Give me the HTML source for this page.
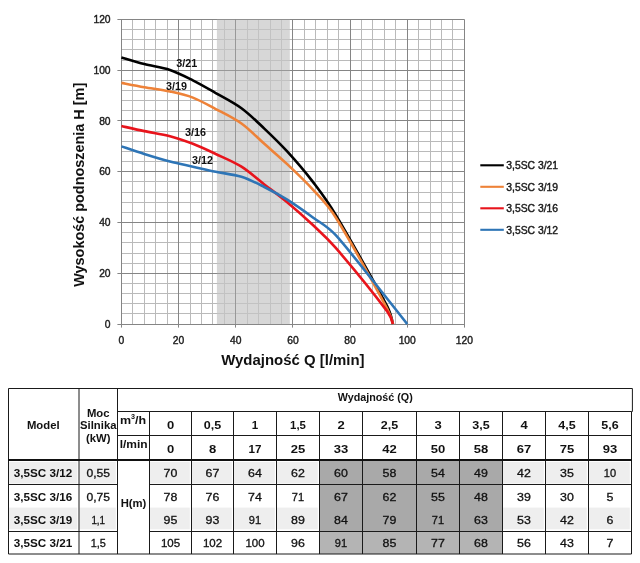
<!DOCTYPE html>
<html lang="pl"><head><meta charset="utf-8"><title>3,5SC</title>
<style>html,body{margin:0;padding:0;background:#fff}svg{display:block}text{font-family:"Liberation Sans",sans-serif}</style></head><body>
<svg width="640" height="563" viewBox="0 0 640 563">
<rect width="640" height="563" fill="#fff"/>
<g stroke="#bababa" stroke-width="1">
<line x1="132.50" y1="19.40" x2="132.50" y2="324.10"/>
<line x1="121.40" y1="313.50" x2="464.40" y2="313.50"/>
<line x1="144.50" y1="19.40" x2="144.50" y2="324.10"/>
<line x1="121.40" y1="303.50" x2="464.40" y2="303.50"/>
<line x1="155.50" y1="19.40" x2="155.50" y2="324.10"/>
<line x1="121.40" y1="293.50" x2="464.40" y2="293.50"/>
<line x1="167.50" y1="19.40" x2="167.50" y2="324.10"/>
<line x1="121.40" y1="283.50" x2="464.40" y2="283.50"/>
<line x1="190.50" y1="19.40" x2="190.50" y2="324.10"/>
<line x1="121.40" y1="263.50" x2="464.40" y2="263.50"/>
<line x1="201.50" y1="19.40" x2="201.50" y2="324.10"/>
<line x1="121.40" y1="253.50" x2="464.40" y2="253.50"/>
<line x1="212.50" y1="19.40" x2="212.50" y2="324.10"/>
<line x1="121.40" y1="242.50" x2="464.40" y2="242.50"/>
<line x1="224.50" y1="19.40" x2="224.50" y2="324.10"/>
<line x1="121.40" y1="232.50" x2="464.40" y2="232.50"/>
<line x1="247.50" y1="19.40" x2="247.50" y2="324.10"/>
<line x1="121.40" y1="212.50" x2="464.40" y2="212.50"/>
<line x1="258.50" y1="19.40" x2="258.50" y2="324.10"/>
<line x1="121.40" y1="202.50" x2="464.40" y2="202.50"/>
<line x1="270.50" y1="19.40" x2="270.50" y2="324.10"/>
<line x1="121.40" y1="192.50" x2="464.40" y2="192.50"/>
<line x1="281.50" y1="19.40" x2="281.50" y2="324.10"/>
<line x1="121.40" y1="181.50" x2="464.40" y2="181.50"/>
<line x1="304.50" y1="19.40" x2="304.50" y2="324.10"/>
<line x1="121.40" y1="161.50" x2="464.40" y2="161.50"/>
<line x1="315.50" y1="19.40" x2="315.50" y2="324.10"/>
<line x1="121.40" y1="151.50" x2="464.40" y2="151.50"/>
<line x1="327.50" y1="19.40" x2="327.50" y2="324.10"/>
<line x1="121.40" y1="141.50" x2="464.40" y2="141.50"/>
<line x1="338.50" y1="19.40" x2="338.50" y2="324.10"/>
<line x1="121.40" y1="131.50" x2="464.40" y2="131.50"/>
<line x1="361.50" y1="19.40" x2="361.50" y2="324.10"/>
<line x1="121.40" y1="110.50" x2="464.40" y2="110.50"/>
<line x1="372.50" y1="19.40" x2="372.50" y2="324.10"/>
<line x1="121.40" y1="100.50" x2="464.40" y2="100.50"/>
<line x1="384.50" y1="19.40" x2="384.50" y2="324.10"/>
<line x1="121.40" y1="90.50" x2="464.40" y2="90.50"/>
<line x1="395.50" y1="19.40" x2="395.50" y2="324.10"/>
<line x1="121.40" y1="80.50" x2="464.40" y2="80.50"/>
<line x1="418.50" y1="19.40" x2="418.50" y2="324.10"/>
<line x1="121.40" y1="60.50" x2="464.40" y2="60.50"/>
<line x1="430.50" y1="19.40" x2="430.50" y2="324.10"/>
<line x1="121.40" y1="49.50" x2="464.40" y2="49.50"/>
<line x1="441.50" y1="19.40" x2="441.50" y2="324.10"/>
<line x1="121.40" y1="39.50" x2="464.40" y2="39.50"/>
<line x1="452.50" y1="19.40" x2="452.50" y2="324.10"/>
<line x1="121.40" y1="29.50" x2="464.40" y2="29.50"/>
</g>
<g stroke="#858585" stroke-width="1">
<line x1="121.50" y1="19.40" x2="121.50" y2="327.60"/>
<line x1="117.40" y1="324.50" x2="464.40" y2="324.50"/>
<line x1="178.50" y1="19.40" x2="178.50" y2="327.60"/>
<line x1="117.40" y1="273.50" x2="464.40" y2="273.50"/>
<line x1="235.50" y1="19.40" x2="235.50" y2="327.60"/>
<line x1="117.40" y1="222.50" x2="464.40" y2="222.50"/>
<line x1="292.50" y1="19.40" x2="292.50" y2="327.60"/>
<line x1="117.40" y1="171.50" x2="464.40" y2="171.50"/>
<line x1="350.50" y1="19.40" x2="350.50" y2="327.60"/>
<line x1="117.40" y1="120.50" x2="464.40" y2="120.50"/>
<line x1="407.50" y1="19.40" x2="407.50" y2="327.60"/>
<line x1="117.40" y1="70.50" x2="464.40" y2="70.50"/>
<line x1="464.50" y1="19.40" x2="464.50" y2="327.60"/>
<line x1="117.40" y1="19.50" x2="464.40" y2="19.50"/>
</g>
<rect x="216.9" y="19.40" width="72.9" height="304.70" fill="#c6c6c6" fill-opacity="0.7"/>
<g stroke="#858585" stroke-width="1" stroke-opacity="0.6">
<line x1="235.50" y1="19.40" x2="235.50" y2="324.10"/>
<line x1="216.9" y1="324.50" x2="289.8" y2="324.50"/>
<line x1="216.9" y1="273.50" x2="289.8" y2="273.50"/>
<line x1="216.9" y1="222.50" x2="289.8" y2="222.50"/>
<line x1="216.9" y1="171.50" x2="289.8" y2="171.50"/>
<line x1="216.9" y1="120.50" x2="289.8" y2="120.50"/>
<line x1="216.9" y1="70.50" x2="289.8" y2="70.50"/>
<line x1="216.9" y1="19.50" x2="289.8" y2="19.50"/>
</g>
<path d="M121.40 57.49 C125.21 58.59 136.17 62.02 144.27 64.09 C152.37 66.16 161.89 67.22 169.99 69.93 C178.09 72.64 185.24 76.49 192.86 80.34 C200.48 84.19 207.63 88.38 215.73 93.04 C223.82 97.69 233.35 102.35 241.45 108.27 C249.55 114.20 256.69 121.39 264.32 128.58 C271.94 135.78 279.08 142.55 287.18 151.44 C295.28 160.32 304.81 171.33 312.91 181.91 C321.01 192.49 326.42 199.25 335.77 214.92 C348.16 235.65 377.70 288.13 387.23 306.33 C390.18 311.96 392.04 319.50 392.94 324.10" fill="none" stroke="#000000" stroke-width="2.6" stroke-linecap="butt" stroke-linejoin="round"/>
<path d="M121.40 82.88 C125.21 83.60 136.17 85.76 144.27 87.20 C152.37 88.63 161.89 89.78 169.99 91.51 C178.09 93.25 185.24 94.69 192.86 97.61 C200.48 100.53 207.63 104.72 215.73 109.03 C223.82 113.35 233.35 117.71 241.45 123.51 C249.55 129.30 256.69 137.05 264.32 143.82 C271.94 150.59 279.08 156.51 287.18 164.13 C295.28 171.75 304.81 180.64 312.91 189.52 C321.01 198.41 327.10 203.53 335.77 217.46 C348.16 237.35 377.70 291.09 387.23 308.87 C389.85 313.75 392.04 319.50 392.94 324.10" fill="none" stroke="#EE8238" stroke-width="2.6" stroke-linecap="butt" stroke-linejoin="round"/>
<path d="M121.40 126.05 C125.21 126.89 136.17 129.43 144.27 131.12 C152.37 132.82 161.89 134.09 169.99 136.20 C178.09 138.32 185.24 140.86 192.86 143.82 C200.48 146.78 207.63 150.17 215.73 153.98 C223.82 157.78 233.35 161.59 241.45 166.67 C249.55 171.75 256.69 178.52 264.32 184.45 C271.94 190.37 279.08 195.45 287.18 202.22 C295.28 208.99 304.81 217.46 312.91 225.07 C321.01 232.69 326.19 236.79 335.77 247.93 C348.16 262.31 377.70 298.71 387.23 311.40 C390.07 315.20 392.04 319.50 392.94 324.10" fill="none" stroke="#E8141C" stroke-width="2.6" stroke-linecap="butt" stroke-linejoin="round"/>
<path d="M121.40 146.36 C125.21 147.63 136.17 151.44 144.27 153.98 C152.37 156.52 161.89 159.48 169.99 161.59 C178.09 163.71 185.24 164.98 192.86 166.67 C200.48 168.36 207.63 170.06 215.73 171.75 C223.82 173.44 233.35 174.29 241.45 176.83 C249.55 179.37 256.69 183.18 264.32 186.98 C271.94 190.79 279.08 194.60 287.18 199.68 C295.28 204.76 304.81 211.53 312.91 217.46 C321.01 223.38 326.89 225.51 335.77 235.23 C348.16 248.77 375.32 283.90 387.23 298.71 C396.43 310.16 403.90 319.87 407.23 324.10" fill="none" stroke="#2E75B6" stroke-width="2.6" stroke-linecap="butt" stroke-linejoin="round"/>
<g font-size="10.3" fill="#1c1c1c" stroke="#1c1c1c" stroke-width="0.4">
<text x="110.6" y="327.70" text-anchor="end">0</text>
<text x="121.40" y="343.8" text-anchor="middle">0</text>
<text x="110.6" y="276.92" text-anchor="end">20</text>
<text x="178.57" y="343.8" text-anchor="middle">20</text>
<text x="110.6" y="226.13" text-anchor="end">40</text>
<text x="235.73" y="343.8" text-anchor="middle">40</text>
<text x="110.6" y="175.35" text-anchor="end">60</text>
<text x="292.90" y="343.8" text-anchor="middle">60</text>
<text x="110.6" y="124.57" text-anchor="end">80</text>
<text x="350.07" y="343.8" text-anchor="middle">80</text>
<text x="110.6" y="73.78" text-anchor="end">100</text>
<text x="407.23" y="343.8" text-anchor="middle">100</text>
<text x="110.6" y="23.00" text-anchor="end">120</text>
<text x="464.40" y="343.8" text-anchor="middle">120</text>
</g>
<g font-size="10.6" font-weight="bold" fill="#111">
<text x="176.2" y="66.6" textLength="21" lengthAdjust="spacingAndGlyphs">3/21</text>
<text x="166.1" y="89.6" textLength="21" lengthAdjust="spacingAndGlyphs">3/19</text>
<text x="184.9" y="135.5" textLength="21" lengthAdjust="spacingAndGlyphs">3/16</text>
<text x="192.1" y="164" textLength="21" lengthAdjust="spacingAndGlyphs">3/12</text>
</g>
<text x="221.2" y="365" font-size="15" font-weight="bold" fill="#111" textLength="143.4" lengthAdjust="spacingAndGlyphs">Wydajność Q [l/min]</text>
<text transform="translate(84 286.8) rotate(-90)" font-size="15" font-weight="bold" fill="#111" textLength="204" lengthAdjust="spacingAndGlyphs">Wysokość podnoszenia H [m]</text>
<line x1="480.3" y1="165.30" x2="503.8" y2="165.30" stroke="#000000" stroke-width="2.1"/>
<text x="506.3" y="169.20" font-size="10.1" fill="#1a1a1a" stroke="#1a1a1a" stroke-width="0.4" textLength="51.8" lengthAdjust="spacingAndGlyphs">3,5SC 3/21</text>
<line x1="480.3" y1="186.80" x2="503.8" y2="186.80" stroke="#EE8238" stroke-width="2.1"/>
<text x="506.3" y="190.70" font-size="10.1" fill="#1a1a1a" stroke="#1a1a1a" stroke-width="0.4" textLength="51.8" lengthAdjust="spacingAndGlyphs">3,5SC 3/19</text>
<line x1="480.3" y1="208.30" x2="503.8" y2="208.30" stroke="#E8141C" stroke-width="2.1"/>
<text x="506.3" y="212.20" font-size="10.1" fill="#1a1a1a" stroke="#1a1a1a" stroke-width="0.4" textLength="51.8" lengthAdjust="spacingAndGlyphs">3,5SC 3/16</text>
<line x1="480.3" y1="229.80" x2="503.8" y2="229.80" stroke="#2E75B6" stroke-width="2.1"/>
<text x="506.3" y="233.70" font-size="10.1" fill="#1a1a1a" stroke="#1a1a1a" stroke-width="0.4" textLength="51.8" lengthAdjust="spacingAndGlyphs">3,5SC 3/12</text>
<rect x="9.00" y="461.90" width="68.30" height="21.60" fill="#eeeeee"/>
<rect x="79.50" y="461.90" width="36.30" height="21.60" fill="#eeeeee"/>
<rect x="150.00" y="461.90" width="39.80" height="21.60" fill="#eeeeee"/>
<rect x="192.00" y="461.90" width="39.80" height="21.60" fill="#eeeeee"/>
<rect x="234.00" y="461.90" width="40.80" height="21.60" fill="#eeeeee"/>
<rect x="277.00" y="461.90" width="40.80" height="21.60" fill="#eeeeee"/>
<rect x="320.00" y="461.90" width="40.80" height="21.60" fill="#eeeeee"/>
<rect x="363.00" y="461.90" width="51.80" height="21.60" fill="#eeeeee"/>
<rect x="417.00" y="461.90" width="40.80" height="21.60" fill="#eeeeee"/>
<rect x="460.00" y="461.90" width="40.80" height="21.60" fill="#eeeeee"/>
<rect x="503.00" y="461.90" width="40.80" height="21.60" fill="#eeeeee"/>
<rect x="546.00" y="461.90" width="40.80" height="21.60" fill="#eeeeee"/>
<rect x="589.00" y="461.90" width="40.80" height="21.60" fill="#eeeeee"/>
<rect x="9.00" y="507.60" width="68.30" height="21.70" fill="#eeeeee"/>
<rect x="79.50" y="507.60" width="36.30" height="21.70" fill="#eeeeee"/>
<rect x="150.00" y="507.60" width="39.80" height="21.70" fill="#eeeeee"/>
<rect x="192.00" y="507.60" width="39.80" height="21.70" fill="#eeeeee"/>
<rect x="234.00" y="507.60" width="40.80" height="21.70" fill="#eeeeee"/>
<rect x="277.00" y="507.60" width="40.80" height="21.70" fill="#eeeeee"/>
<rect x="320.00" y="507.60" width="40.80" height="21.70" fill="#eeeeee"/>
<rect x="363.00" y="507.60" width="51.80" height="21.70" fill="#eeeeee"/>
<rect x="417.00" y="507.60" width="40.80" height="21.70" fill="#eeeeee"/>
<rect x="460.00" y="507.60" width="40.80" height="21.70" fill="#eeeeee"/>
<rect x="503.00" y="507.60" width="40.80" height="21.70" fill="#eeeeee"/>
<rect x="546.00" y="507.60" width="40.80" height="21.70" fill="#eeeeee"/>
<rect x="589.00" y="507.60" width="40.80" height="21.70" fill="#eeeeee"/>
<rect x="319.50" y="459.90" width="183.00" height="71.60" fill="#a9a9a9"/>
<rect x="319.50" y="531.50" width="183.00" height="22.50" fill="#b4b4b4"/>
<g stroke="#1a1a1a" stroke-width="1" fill="none">
<path d="M8.50 388.50 H632.40 V411.50 H631.50 V554.00 H8.50 Z"/>
<line x1="79.00" y1="388.50" x2="79.00" y2="554.00"/>
<line x1="117.50" y1="388.50" x2="117.50" y2="554.00"/>
<line x1="149.50" y1="411.50" x2="149.50" y2="554.00"/>
<line x1="191.50" y1="411.50" x2="191.50" y2="554.00"/>
<line x1="233.50" y1="411.50" x2="233.50" y2="554.00"/>
<line x1="276.50" y1="411.50" x2="276.50" y2="554.00"/>
<line x1="319.50" y1="411.50" x2="319.50" y2="554.00"/>
<line x1="362.50" y1="411.50" x2="362.50" y2="554.00"/>
<line x1="416.50" y1="411.50" x2="416.50" y2="554.00"/>
<line x1="459.50" y1="411.50" x2="459.50" y2="554.00"/>
<line x1="502.50" y1="411.50" x2="502.50" y2="554.00"/>
<line x1="545.50" y1="411.50" x2="545.50" y2="554.00"/>
<line x1="588.50" y1="411.50" x2="588.50" y2="554.00"/>
<line x1="117.50" y1="411.50" x2="631.50" y2="411.50"/>
<line x1="117.50" y1="435.50" x2="631.50" y2="435.50"/>
<line x1="8.50" y1="484.50" x2="117.50" y2="484.50"/>
<line x1="149.50" y1="484.50" x2="631.50" y2="484.50"/>
<line x1="8.50" y1="531.50" x2="117.50" y2="531.50"/>
<line x1="149.50" y1="531.50" x2="631.50" y2="531.50"/>
</g>
<line x1="8.00" y1="459.90" x2="632.00" y2="459.90" stroke="#111" stroke-width="2"/>
<text x="43.25" y="428.60" font-size="11.3" font-weight="bold" text-anchor="middle" fill="#111">Model</text>
<text x="98.25" y="416.50" font-size="11.3" font-weight="bold" text-anchor="middle" fill="#111">Moc</text>
<text x="98.25" y="429.20" font-size="11.3" font-weight="bold" text-anchor="middle" fill="#111">Silnika</text>
<text x="98.25" y="441.80" font-size="11.3" font-weight="bold" text-anchor="middle" fill="#111">(kW)</text>
<text x="120.00" y="423.8" font-size="11.3" font-weight="bold" fill="#111" textLength="26.2" lengthAdjust="spacingAndGlyphs">m<tspan font-size="6.5" dy="-4.5">3</tspan><tspan dy="4.5">/h</tspan></text>
<text x="119.70" y="448" font-size="11.3" font-weight="bold" fill="#111" textLength="28" lengthAdjust="spacingAndGlyphs">l/min</text>
<text x="375.30" y="401.20" font-size="11.5" font-weight="bold" text-anchor="middle" fill="#111" textLength="75.00" lengthAdjust="spacingAndGlyphs">Wydajność (Q)</text>
<text x="170.50" y="429.20" font-size="11.5" font-weight="bold" text-anchor="middle" fill="#111" textLength="7.25" lengthAdjust="spacingAndGlyphs">0</text>
<text x="170.50" y="453.40" font-size="11.5" font-weight="bold" text-anchor="middle" fill="#111" textLength="7.25" lengthAdjust="spacingAndGlyphs">0</text>
<text x="212.50" y="429.20" font-size="11.5" font-weight="bold" text-anchor="middle" fill="#111" textLength="17.40" lengthAdjust="spacingAndGlyphs">0,5</text>
<text x="212.50" y="453.40" font-size="11.5" font-weight="bold" text-anchor="middle" fill="#111" textLength="7.25" lengthAdjust="spacingAndGlyphs">8</text>
<text x="255.00" y="429.20" font-size="11.5" font-weight="bold" text-anchor="middle" fill="#111">1</text>
<text x="255.00" y="453.40" font-size="11.5" font-weight="bold" text-anchor="middle" fill="#111" textLength="12.95" lengthAdjust="spacingAndGlyphs">17</text>
<text x="298.00" y="429.20" font-size="11.5" font-weight="bold" text-anchor="middle" fill="#111" textLength="15.85" lengthAdjust="spacingAndGlyphs">1,5</text>
<text x="298.00" y="453.40" font-size="11.5" font-weight="bold" text-anchor="middle" fill="#111" textLength="14.50" lengthAdjust="spacingAndGlyphs">25</text>
<text x="341.00" y="429.20" font-size="11.5" font-weight="bold" text-anchor="middle" fill="#111" textLength="7.25" lengthAdjust="spacingAndGlyphs">2</text>
<text x="341.00" y="453.40" font-size="11.5" font-weight="bold" text-anchor="middle" fill="#111" textLength="14.50" lengthAdjust="spacingAndGlyphs">33</text>
<text x="389.50" y="429.20" font-size="11.5" font-weight="bold" text-anchor="middle" fill="#111" textLength="17.40" lengthAdjust="spacingAndGlyphs">2,5</text>
<text x="389.50" y="453.40" font-size="11.5" font-weight="bold" text-anchor="middle" fill="#111" textLength="14.50" lengthAdjust="spacingAndGlyphs">42</text>
<text x="438.00" y="429.20" font-size="11.5" font-weight="bold" text-anchor="middle" fill="#111" textLength="7.25" lengthAdjust="spacingAndGlyphs">3</text>
<text x="438.00" y="453.40" font-size="11.5" font-weight="bold" text-anchor="middle" fill="#111" textLength="14.50" lengthAdjust="spacingAndGlyphs">50</text>
<text x="481.00" y="429.20" font-size="11.5" font-weight="bold" text-anchor="middle" fill="#111" textLength="17.40" lengthAdjust="spacingAndGlyphs">3,5</text>
<text x="481.00" y="453.40" font-size="11.5" font-weight="bold" text-anchor="middle" fill="#111" textLength="14.50" lengthAdjust="spacingAndGlyphs">58</text>
<text x="524.00" y="429.20" font-size="11.5" font-weight="bold" text-anchor="middle" fill="#111" textLength="7.25" lengthAdjust="spacingAndGlyphs">4</text>
<text x="524.00" y="453.40" font-size="11.5" font-weight="bold" text-anchor="middle" fill="#111" textLength="14.50" lengthAdjust="spacingAndGlyphs">67</text>
<text x="567.00" y="429.20" font-size="11.5" font-weight="bold" text-anchor="middle" fill="#111" textLength="17.40" lengthAdjust="spacingAndGlyphs">4,5</text>
<text x="567.00" y="453.40" font-size="11.5" font-weight="bold" text-anchor="middle" fill="#111" textLength="14.50" lengthAdjust="spacingAndGlyphs">75</text>
<text x="610.00" y="429.20" font-size="11.5" font-weight="bold" text-anchor="middle" fill="#111" textLength="17.40" lengthAdjust="spacingAndGlyphs">5,6</text>
<text x="610.00" y="453.40" font-size="11.5" font-weight="bold" text-anchor="middle" fill="#111" textLength="14.50" lengthAdjust="spacingAndGlyphs">93</text>
<text x="43.05" y="477.30" font-size="11.7" font-weight="bold" text-anchor="middle" fill="#111">3,5SC 3/12</text>
<text x="98.25" y="477.30" font-size="11.3"  text-anchor="middle" fill="#111" textLength="23.60" lengthAdjust="spacingAndGlyphs" stroke="#111" stroke-width="0.3">0,55</text>
<text x="170.50" y="477.30" font-size="11.3"  text-anchor="middle" fill="#111" textLength="13.80" lengthAdjust="spacingAndGlyphs" stroke="#111" stroke-width="0.3">70</text>
<text x="212.50" y="477.30" font-size="11.3"  text-anchor="middle" fill="#111" textLength="13.80" lengthAdjust="spacingAndGlyphs" stroke="#111" stroke-width="0.3">67</text>
<text x="255.00" y="477.30" font-size="11.3"  text-anchor="middle" fill="#111" textLength="13.80" lengthAdjust="spacingAndGlyphs" stroke="#111" stroke-width="0.3">64</text>
<text x="298.00" y="477.30" font-size="11.3"  text-anchor="middle" fill="#111" textLength="13.80" lengthAdjust="spacingAndGlyphs" stroke="#111" stroke-width="0.3">62</text>
<text x="341.00" y="477.30" font-size="11.3"  text-anchor="middle" fill="#111" textLength="13.80" lengthAdjust="spacingAndGlyphs" stroke="#111" stroke-width="0.3">60</text>
<text x="389.50" y="477.30" font-size="11.3"  text-anchor="middle" fill="#111" textLength="13.80" lengthAdjust="spacingAndGlyphs" stroke="#111" stroke-width="0.3">58</text>
<text x="438.00" y="477.30" font-size="11.3"  text-anchor="middle" fill="#111" textLength="13.80" lengthAdjust="spacingAndGlyphs" stroke="#111" stroke-width="0.3">54</text>
<text x="481.00" y="477.30" font-size="11.3"  text-anchor="middle" fill="#111" textLength="13.80" lengthAdjust="spacingAndGlyphs" stroke="#111" stroke-width="0.3">49</text>
<text x="524.00" y="477.30" font-size="11.3"  text-anchor="middle" fill="#111" textLength="13.80" lengthAdjust="spacingAndGlyphs" stroke="#111" stroke-width="0.3">42</text>
<text x="567.00" y="477.30" font-size="11.3"  text-anchor="middle" fill="#111" textLength="13.80" lengthAdjust="spacingAndGlyphs" stroke="#111" stroke-width="0.3">35</text>
<text x="610.00" y="477.30" font-size="11.3"  text-anchor="middle" fill="#111" textLength="12.30" lengthAdjust="spacingAndGlyphs" stroke="#111" stroke-width="0.3">10</text>
<text x="43.05" y="501.20" font-size="11.7" font-weight="bold" text-anchor="middle" fill="#111">3,5SC 3/16</text>
<text x="98.25" y="501.20" font-size="11.3"  text-anchor="middle" fill="#111" textLength="23.60" lengthAdjust="spacingAndGlyphs" stroke="#111" stroke-width="0.3">0,75</text>
<text x="170.50" y="501.20" font-size="11.3"  text-anchor="middle" fill="#111" textLength="13.80" lengthAdjust="spacingAndGlyphs" stroke="#111" stroke-width="0.3">78</text>
<text x="212.50" y="501.20" font-size="11.3"  text-anchor="middle" fill="#111" textLength="13.80" lengthAdjust="spacingAndGlyphs" stroke="#111" stroke-width="0.3">76</text>
<text x="255.00" y="501.20" font-size="11.3"  text-anchor="middle" fill="#111" textLength="13.80" lengthAdjust="spacingAndGlyphs" stroke="#111" stroke-width="0.3">74</text>
<text x="298.00" y="501.20" font-size="11.3"  text-anchor="middle" fill="#111" textLength="12.30" lengthAdjust="spacingAndGlyphs" stroke="#111" stroke-width="0.3">71</text>
<text x="341.00" y="501.20" font-size="11.3"  text-anchor="middle" fill="#111" textLength="13.80" lengthAdjust="spacingAndGlyphs" stroke="#111" stroke-width="0.3">67</text>
<text x="389.50" y="501.20" font-size="11.3"  text-anchor="middle" fill="#111" textLength="13.80" lengthAdjust="spacingAndGlyphs" stroke="#111" stroke-width="0.3">62</text>
<text x="438.00" y="501.20" font-size="11.3"  text-anchor="middle" fill="#111" textLength="13.80" lengthAdjust="spacingAndGlyphs" stroke="#111" stroke-width="0.3">55</text>
<text x="481.00" y="501.20" font-size="11.3"  text-anchor="middle" fill="#111" textLength="13.80" lengthAdjust="spacingAndGlyphs" stroke="#111" stroke-width="0.3">48</text>
<text x="524.00" y="501.20" font-size="11.3"  text-anchor="middle" fill="#111" textLength="13.80" lengthAdjust="spacingAndGlyphs" stroke="#111" stroke-width="0.3">39</text>
<text x="567.00" y="501.20" font-size="11.3"  text-anchor="middle" fill="#111" textLength="13.80" lengthAdjust="spacingAndGlyphs" stroke="#111" stroke-width="0.3">30</text>
<text x="610.00" y="501.20" font-size="11.3"  text-anchor="middle" fill="#111" textLength="6.90" lengthAdjust="spacingAndGlyphs" stroke="#111" stroke-width="0.3">5</text>
<text x="43.05" y="524.20" font-size="11.7" font-weight="bold" text-anchor="middle" fill="#111">3,5SC 3/19</text>
<text x="98.25" y="524.20" font-size="11.3"  text-anchor="middle" fill="#111" textLength="13.70" lengthAdjust="spacingAndGlyphs" stroke="#111" stroke-width="0.3">1,1</text>
<text x="170.50" y="524.20" font-size="11.3"  text-anchor="middle" fill="#111" textLength="13.80" lengthAdjust="spacingAndGlyphs" stroke="#111" stroke-width="0.3">95</text>
<text x="212.50" y="524.20" font-size="11.3"  text-anchor="middle" fill="#111" textLength="13.80" lengthAdjust="spacingAndGlyphs" stroke="#111" stroke-width="0.3">93</text>
<text x="255.00" y="524.20" font-size="11.3"  text-anchor="middle" fill="#111" textLength="12.30" lengthAdjust="spacingAndGlyphs" stroke="#111" stroke-width="0.3">91</text>
<text x="298.00" y="524.20" font-size="11.3"  text-anchor="middle" fill="#111" textLength="13.80" lengthAdjust="spacingAndGlyphs" stroke="#111" stroke-width="0.3">89</text>
<text x="341.00" y="524.20" font-size="11.3"  text-anchor="middle" fill="#111" textLength="13.80" lengthAdjust="spacingAndGlyphs" stroke="#111" stroke-width="0.3">84</text>
<text x="389.50" y="524.20" font-size="11.3"  text-anchor="middle" fill="#111" textLength="13.80" lengthAdjust="spacingAndGlyphs" stroke="#111" stroke-width="0.3">79</text>
<text x="438.00" y="524.20" font-size="11.3"  text-anchor="middle" fill="#111" textLength="12.30" lengthAdjust="spacingAndGlyphs" stroke="#111" stroke-width="0.3">71</text>
<text x="481.00" y="524.20" font-size="11.3"  text-anchor="middle" fill="#111" textLength="13.80" lengthAdjust="spacingAndGlyphs" stroke="#111" stroke-width="0.3">63</text>
<text x="524.00" y="524.20" font-size="11.3"  text-anchor="middle" fill="#111" textLength="13.80" lengthAdjust="spacingAndGlyphs" stroke="#111" stroke-width="0.3">53</text>
<text x="567.00" y="524.20" font-size="11.3"  text-anchor="middle" fill="#111" textLength="13.80" lengthAdjust="spacingAndGlyphs" stroke="#111" stroke-width="0.3">42</text>
<text x="610.00" y="524.20" font-size="11.3"  text-anchor="middle" fill="#111" textLength="6.90" lengthAdjust="spacingAndGlyphs" stroke="#111" stroke-width="0.3">6</text>
<text x="43.05" y="547.10" font-size="11.7" font-weight="bold" text-anchor="middle" fill="#111">3,5SC 3/21</text>
<text x="98.25" y="547.10" font-size="11.3"  text-anchor="middle" fill="#111" textLength="15.20" lengthAdjust="spacingAndGlyphs" stroke="#111" stroke-width="0.3">1,5</text>
<text x="170.50" y="547.10" font-size="11.3"  text-anchor="middle" fill="#111" textLength="19.20" lengthAdjust="spacingAndGlyphs" stroke="#111" stroke-width="0.3">105</text>
<text x="212.50" y="547.10" font-size="11.3"  text-anchor="middle" fill="#111" textLength="19.20" lengthAdjust="spacingAndGlyphs" stroke="#111" stroke-width="0.3">102</text>
<text x="255.00" y="547.10" font-size="11.3"  text-anchor="middle" fill="#111" textLength="19.20" lengthAdjust="spacingAndGlyphs" stroke="#111" stroke-width="0.3">100</text>
<text x="298.00" y="547.10" font-size="11.3"  text-anchor="middle" fill="#111" textLength="13.80" lengthAdjust="spacingAndGlyphs" stroke="#111" stroke-width="0.3">96</text>
<text x="341.00" y="547.10" font-size="11.3"  text-anchor="middle" fill="#111" textLength="12.30" lengthAdjust="spacingAndGlyphs" stroke="#111" stroke-width="0.3">91</text>
<text x="389.50" y="547.10" font-size="11.3"  text-anchor="middle" fill="#111" textLength="13.80" lengthAdjust="spacingAndGlyphs" stroke="#111" stroke-width="0.3">85</text>
<text x="438.00" y="547.10" font-size="11.3"  text-anchor="middle" fill="#111" textLength="13.80" lengthAdjust="spacingAndGlyphs" stroke="#111" stroke-width="0.3">77</text>
<text x="481.00" y="547.10" font-size="11.3"  text-anchor="middle" fill="#111" textLength="13.80" lengthAdjust="spacingAndGlyphs" stroke="#111" stroke-width="0.3">68</text>
<text x="524.00" y="547.10" font-size="11.3"  text-anchor="middle" fill="#111" textLength="13.80" lengthAdjust="spacingAndGlyphs" stroke="#111" stroke-width="0.3">56</text>
<text x="567.00" y="547.10" font-size="11.3"  text-anchor="middle" fill="#111" textLength="13.80" lengthAdjust="spacingAndGlyphs" stroke="#111" stroke-width="0.3">43</text>
<text x="610.00" y="547.10" font-size="11.3"  text-anchor="middle" fill="#111" textLength="6.90" lengthAdjust="spacingAndGlyphs" stroke="#111" stroke-width="0.3">7</text>
<text x="133.50" y="506.50" font-size="11.3" font-weight="bold" text-anchor="middle" fill="#111">H(m)</text>
</svg></body></html>
